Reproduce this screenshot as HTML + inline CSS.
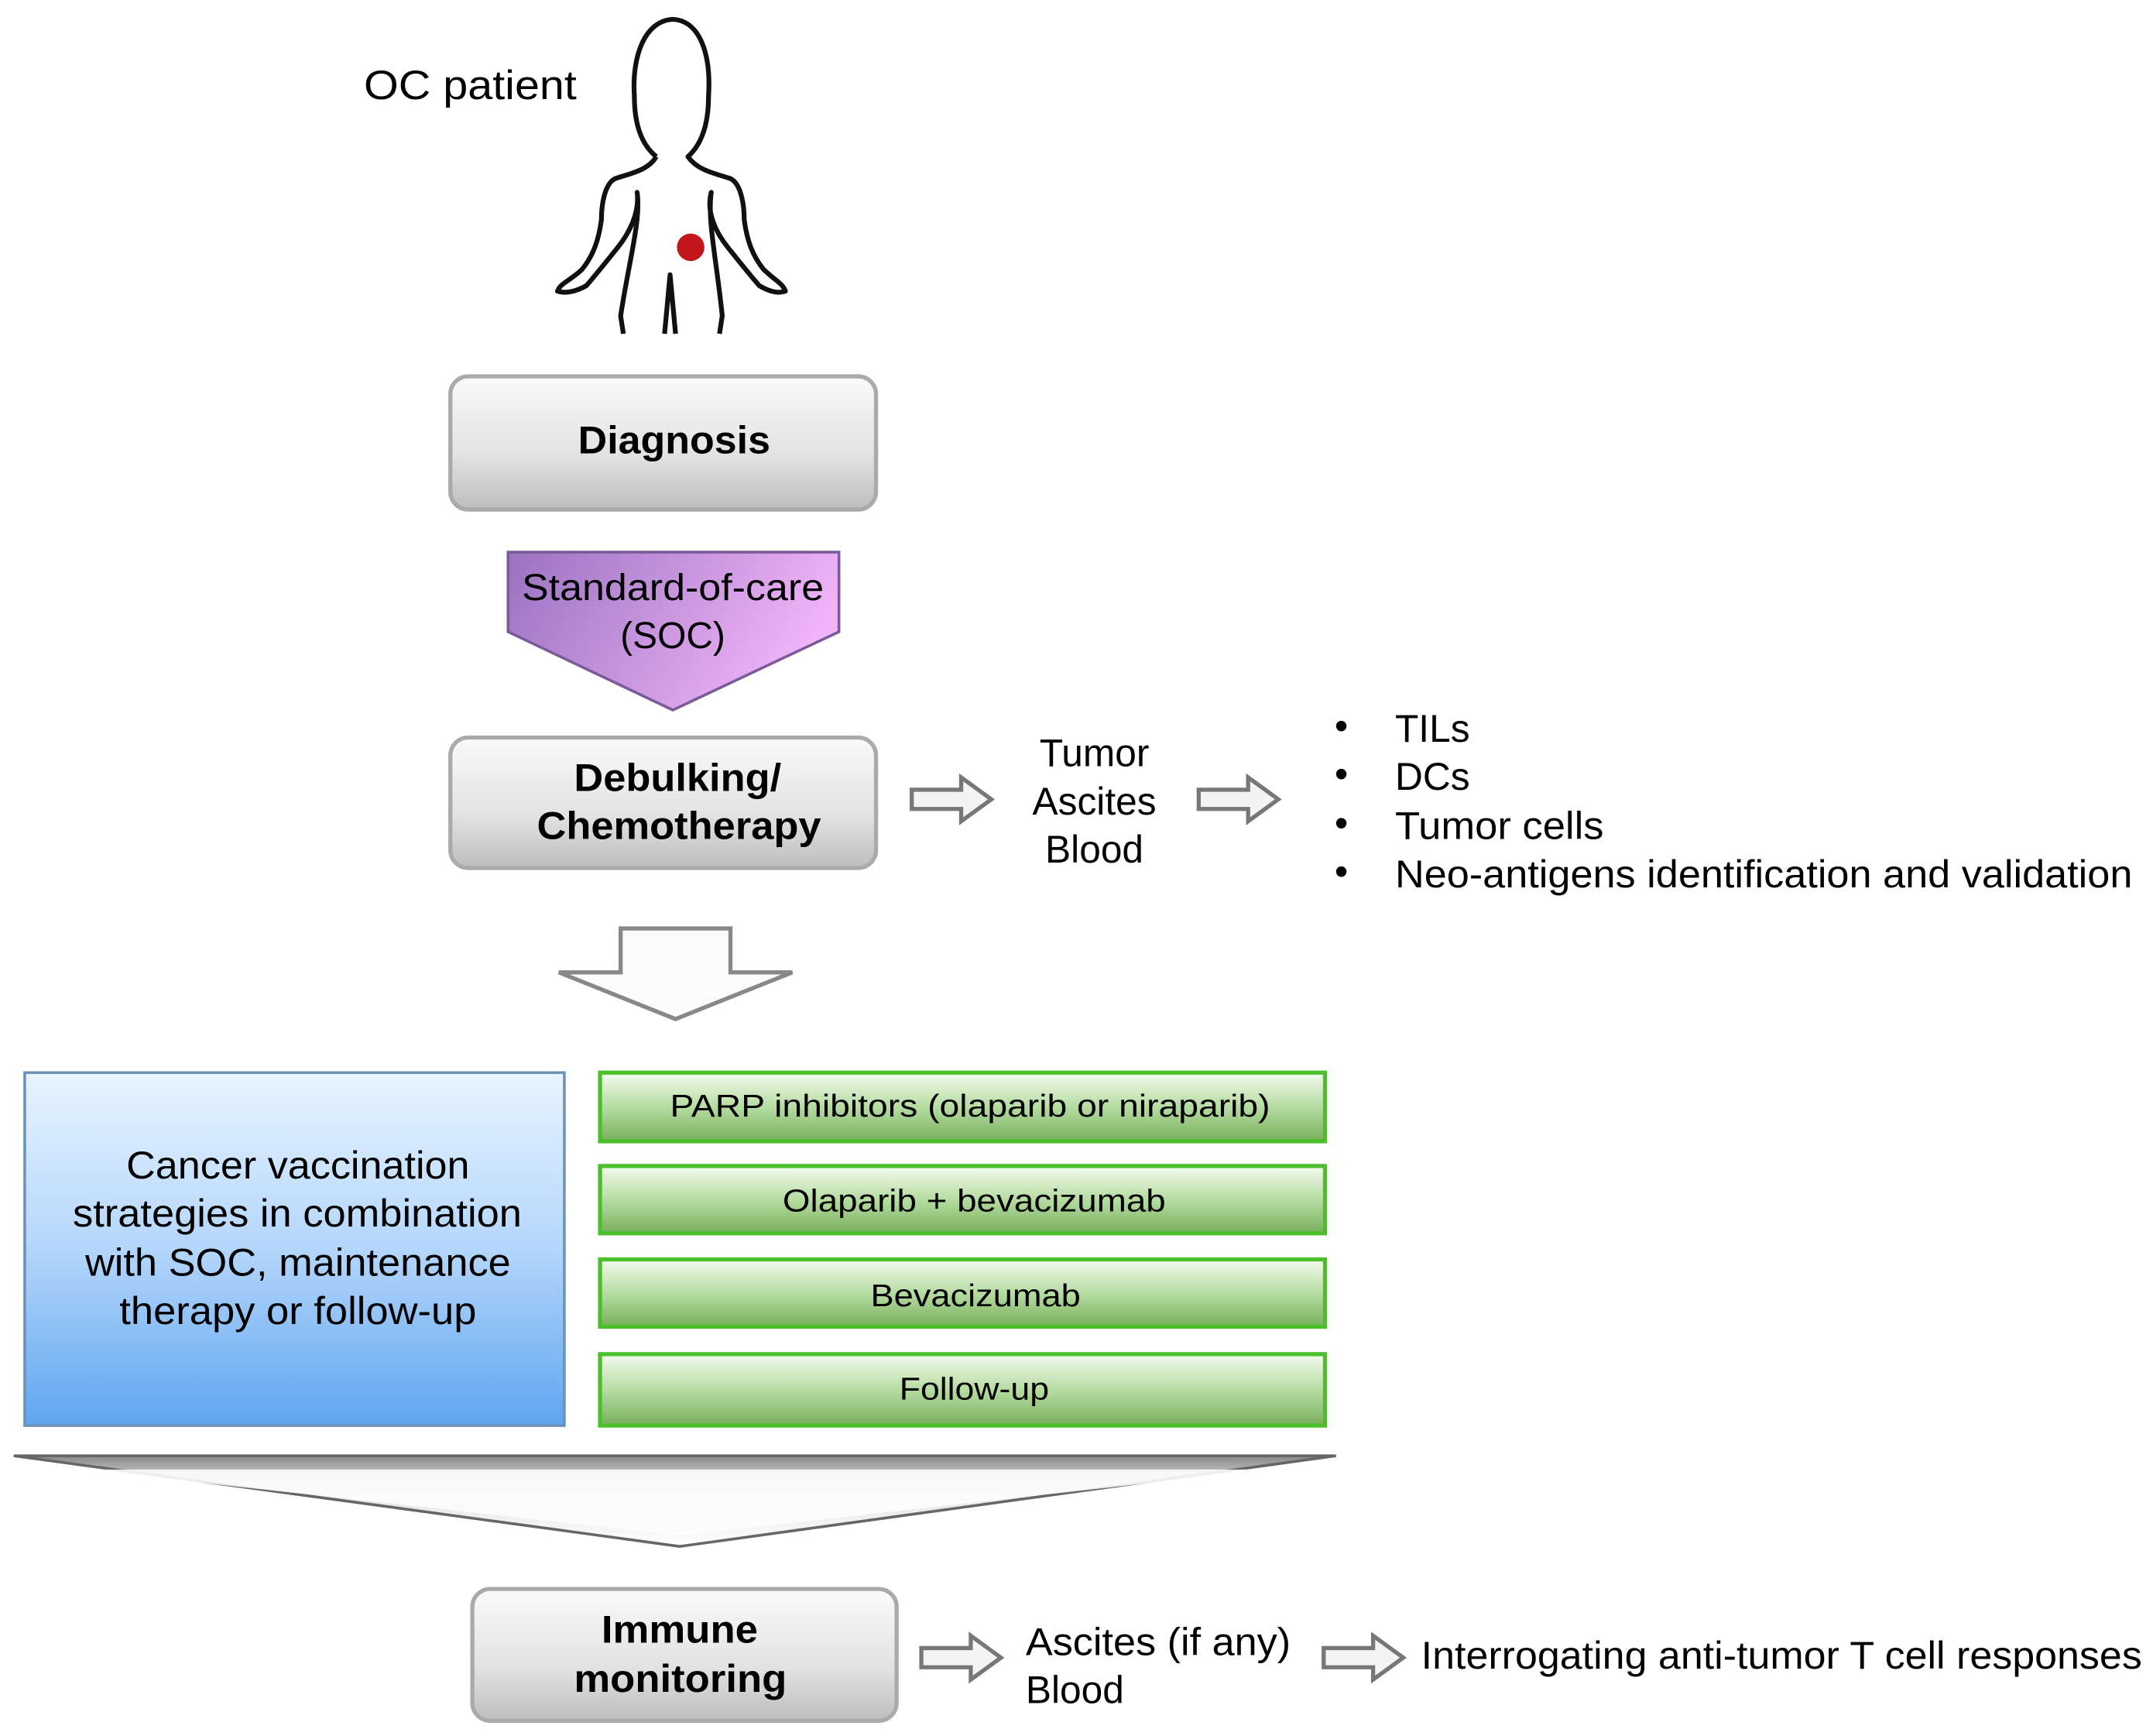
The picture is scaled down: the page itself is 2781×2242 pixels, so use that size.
<!DOCTYPE html>
<html><head><meta charset="utf-8"><style>html,body{margin:0;padding:0;background:#fff}svg{display:block}</style></head>
<body>
<svg xmlns="http://www.w3.org/2000/svg" width="2781" height="2242" viewBox="0 0 1568 1264" font-family="Liberation Sans, Arial, sans-serif">
<defs>
<linearGradient id="gray" x1="0" y1="0" x2="0" y2="1"><stop offset="0" stop-color="#fafafa"/><stop offset="0.6" stop-color="#e2e2e2"/><stop offset="1" stop-color="#bdbdbd"/></linearGradient>
<linearGradient id="purple" x1="0" y1="0" x2="1" y2="0.3"><stop offset="0" stop-color="#9a72c0"/><stop offset="1" stop-color="#f0b4f8"/></linearGradient>
<linearGradient id="blue" x1="0" y1="0" x2="0" y2="1"><stop offset="0" stop-color="#e8f4ff"/><stop offset="0.5" stop-color="#b4d6fb"/><stop offset="1" stop-color="#5fa6f0"/></linearGradient>
<linearGradient id="green" x1="0" y1="0" x2="0" y2="1"><stop offset="0" stop-color="#f4fbf0"/><stop offset="0.5" stop-color="#b6dca2"/><stop offset="1" stop-color="#78b05c"/></linearGradient>
<linearGradient id="chev" x1="0" y1="0" x2="0" y2="1"><stop offset="0" stop-color="#888"/><stop offset="0.3" stop-color="#ddd"/><stop offset="1" stop-color="#fff"/></linearGradient>
<g id="harrow"><path d="M0,-7 L36,-7 L36,-16 L58,0 L36,16 L36,7 L0,7 Z" fill="#f4f4f4" stroke="#777" stroke-width="3"/></g>
</defs>

<text x="265" y="72" font-size="30" textLength="155" lengthAdjust="spacingAndGlyphs">OC patient</text>
<g fill="none" stroke="#111" stroke-width="3.5" stroke-linejoin="round">
<path d="M478,114 C468,106 462,92 462,70 C460,40 470,15 490,14 C510,15 518,40 516,70 C516,92 510,106 501,114 C508,124 520,126 532,130 C540,134 542,150 542,160 C544,175 548,186 556,196 C564,204 570,206 572,212 C566,214 560,212 553,208 C546,200 538,190 530,180 C522,170 514,155 518,140 C515,160 522,190 526,230 L524,243"/>
<path d="M478,114 C472,124 460,126 448,130 C440,134 438,150 438,160 C436,175 432,186 424,196 C416,204 408,206 406,212 C412,214 420,212 427,208 C434,200 442,190 450,180 C458,170 466,155 464,140 C467,160 458,190 452,230 L454,243"/>
<path d="M484,243 L488,200 L492,243"/>
</g>
<circle cx="503" cy="180" r="10" fill="#c0161c"/>

<rect x="328" y="274" width="310" height="97" rx="13" fill="url(#gray)" stroke="#aaa" stroke-width="3"/>
<text x="421" y="330" font-size="28" font-weight="bold" textLength="140" lengthAdjust="spacingAndGlyphs">Diagnosis</text>

<path d="M370,402 L611,402 L611,460 L490,517 L370,460 Z" fill="url(#purple)" stroke="#7a5a98" stroke-width="2"/>
<text x="380" y="437" font-size="27" textLength="220" lengthAdjust="spacingAndGlyphs">Standard-of-care</text>
<text x="490" y="472" font-size="27" text-anchor="middle">(SOC)</text>

<rect x="328" y="537" width="310" height="95" rx="13" fill="url(#gray)" stroke="#aaa" stroke-width="3"/>
<text x="418" y="576" font-size="28" font-weight="bold" textLength="151" lengthAdjust="spacingAndGlyphs">Debulking/</text>
<text x="391" y="611" font-size="28" font-weight="bold" textLength="207" lengthAdjust="spacingAndGlyphs">Chemotherapy</text>

<use href="#harrow" x="664" y="582"/>
<use href="#harrow" x="873" y="582"/>
<text x="797" y="558" font-size="28" text-anchor="middle">Tumor</text>
<text x="797" y="593" font-size="28" text-anchor="middle">Ascites</text>
<text x="797" y="628" font-size="28" text-anchor="middle">Blood</text>

<g font-size="28">
<text x="972" y="538">•</text><text x="1016" y="540">TILs</text>
<text x="972" y="573">•</text><text x="1016" y="575">DCs</text>
<text x="972" y="609">•</text><text x="1016" y="611" textLength="152" lengthAdjust="spacingAndGlyphs">Tumor cells</text>
<text x="972" y="644">•</text><text x="1016" y="646" textLength="537" lengthAdjust="spacingAndGlyphs">Neo-antigens identification and validation</text>
</g>

<path d="M452,676 L532,676 L532,708 L577,708 L492,742 L407,708 L452,708 Z" fill="#fbfbfb" stroke="#888" stroke-width="3"/>

<rect x="18" y="781" width="393" height="257" fill="url(#blue)" stroke="#6f90b8" stroke-width="2"/>
<g font-size="28">
<text x="92" y="858" textLength="250" lengthAdjust="spacingAndGlyphs">Cancer vaccination</text>
<text x="53" y="893" textLength="327" lengthAdjust="spacingAndGlyphs">strategies in combination</text>
<text x="62" y="929" textLength="310" lengthAdjust="spacingAndGlyphs">with SOC, maintenance</text>
<text x="87" y="964" textLength="260" lengthAdjust="spacingAndGlyphs">therapy or follow-up</text>
</g>

<g stroke="#4cc02a" stroke-width="3" fill="url(#green)">
<rect x="437" y="781" width="528" height="50"/>
<rect x="437" y="849" width="528" height="49"/>
<rect x="437" y="917" width="528" height="49"/>
<rect x="437" y="986" width="528" height="52"/>
</g>
<g font-size="23">
<text x="488" y="813" textLength="437" lengthAdjust="spacingAndGlyphs">PARP inhibitors  (olaparib  or niraparib)</text>
<text x="570" y="882" textLength="279" lengthAdjust="spacingAndGlyphs">Olaparib  + bevacizumab</text>
<text x="634" y="951" textLength="153" lengthAdjust="spacingAndGlyphs">Bevacizumab</text>
<text x="655" y="1019" textLength="109" lengthAdjust="spacingAndGlyphs">Follow-up</text>
</g>

<path d="M10,1060 L973,1060 L495,1126 Z" fill="url(#chev)" stroke="#666" stroke-width="2"/>
<path d="M60,1070 L925,1070 L495,1118 Z" fill="#fdfdfd" opacity="0.9"/>

<rect x="344" y="1157" width="309" height="96" rx="13" fill="url(#gray)" stroke="#aaa" stroke-width="3"/>
<text x="438" y="1196" font-size="28" font-weight="bold" textLength="114" lengthAdjust="spacingAndGlyphs">Immune</text>
<text x="418" y="1232" font-size="28" font-weight="bold" textLength="155" lengthAdjust="spacingAndGlyphs">monitoring</text>

<use href="#harrow" x="671" y="1207"/>
<use href="#harrow" x="964" y="1207"/>
<text x="747" y="1205" font-size="28" textLength="193" lengthAdjust="spacingAndGlyphs">Ascites (if any)</text>
<text x="747" y="1240" font-size="28">Blood</text>
<text x="1035" y="1215" font-size="28" textLength="525" lengthAdjust="spacingAndGlyphs">Interrogating anti-tumor T cell responses</text>
</svg>
</body></html>
